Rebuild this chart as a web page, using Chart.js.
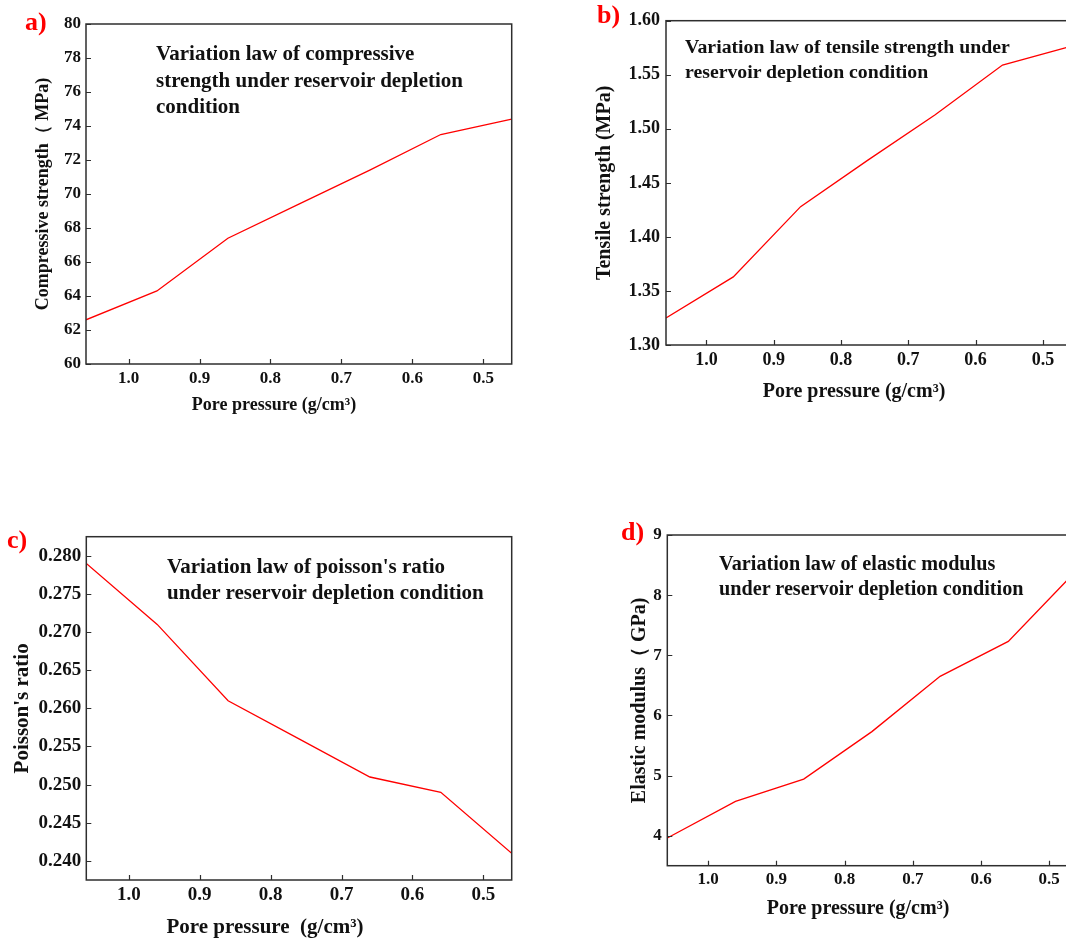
<!DOCTYPE html>
<html>
<head>
<meta charset="utf-8">
<script src="https://cdn.jsdelivr.net/npm/chart.js@4.4.1/dist/chart.umd.min.js"></script>
<style>
    body { margin: 0; background: #fff; }
    #page { position: relative; width: 1066px; height: 943px; overflow: hidden; background: #fff; }
    canvas { position: absolute; }
    .note, .tag {
        position: absolute;
        font-family: "Liberation Serif", "Times New Roman", serif;
        font-weight: bold;
        white-space: nowrap;
    }
    .note { color: #111; }
    .tag { color: #ff0000; line-height: 1; }
</style>
</head>
<body>
<div id="page">
    <canvas id="chartA" width="540" height="430" style="left:0px;top:0px"></canvas>
    <canvas id="chartB" width="540" height="430" style="left:560px;top:0px"></canvas>
    <canvas id="chartC" width="540" height="443" style="left:0px;top:500px"></canvas>
    <canvas id="chartD" width="540" height="443" style="left:560px;top:500px"></canvas>

    <div class="tag" style="left:25px;top:9px;font-size:26px">a)</div>
    <div class="tag" style="left:597px;top:2px;font-size:26px">b)</div>
    <div class="tag" style="left:7px;top:527px;font-size:26px">c)</div>
    <div class="tag" style="left:621px;top:519px;font-size:26px">d)</div>

    <div class="note" style="left:156px;top:40px;font-size:21px;line-height:26.7px">Variation law of compressive<br>strength under reservoir depletion<br>condition</div>
    <div class="note" style="left:685px;top:34px;font-size:19.8px;line-height:25px">Variation law of tensile strength under<br>reservoir depletion condition</div>
    <div class="note" style="left:167px;top:553px;font-size:21px;line-height:26px">Variation law of poisson's ratio<br>under reservoir depletion condition</div>
    <div class="note" style="left:719px;top:551px;font-size:20.2px;line-height:25px">Variation law of elastic modulus<br>under reservoir depletion condition</div>
</div>

<script>
// Data
const porePressure = [1.06, 0.96, 0.86, 0.76, 0.66, 0.56, 0.46];
const compressiveStrength = [62.6, 64.3, 67.4, 69.4, 71.4, 73.5, 74.4];
const tensileStrength = [1.325, 1.363, 1.428, 1.471, 1.513, 1.559, 1.576];
const poissonRatio = [0.279, 0.271, 0.261, 0.256, 0.251, 0.249, 0.241];
const elasticModulus = [3.96, 4.57, 4.94, 5.73, 6.65, 7.23, 8.41];

// Tick labels
const xTicks = [1.0, 0.9, 0.8, 0.7, 0.6, 0.5];
const compressiveTicks = [60, 62, 64, 66, 68, 70, 72, 74, 76, 78, 80];
const tensileTicks = [1.30, 1.35, 1.40, 1.45, 1.50, 1.55, 1.60];
const poissonTicks = [0.240, 0.245, 0.250, 0.255, 0.260, 0.265, 0.270, 0.275, 0.280];
const modulusTicks = [4, 5, 6, 7, 8, 9];

Chart.defaults.font.family = '"Liberation Serif", "Times New Roman", serif';
Chart.defaults.color = '#111';

// Box frame, inward tick marks and the x axis title
const framePlugin = {
    id: 'frame',
    afterDraw(chart, args, opts) {
        const { ctx, chartArea: area, scales } = chart;
        ctx.save();
        ctx.strokeStyle = '#2e2e2e';
        ctx.lineWidth = 1.5;
        ctx.strokeRect(area.left, area.top, area.right - area.left, area.bottom - area.top);

        ctx.lineWidth = 1.2;
        ctx.beginPath();
        scales.x.ticks.forEach(t => {
            const px = Math.round(scales.x.getPixelForValue(t.value)) + 0.5;
            ctx.moveTo(px, area.bottom);
            ctx.lineTo(px, area.bottom - 5);
        });
        scales.y.ticks.forEach(t => {
            const py = Math.round(scales.y.getPixelForValue(t.value)) + 0.5;
            ctx.moveTo(area.left, py);
            ctx.lineTo(area.left + 5, py);
        });
        ctx.stroke();

        ctx.fillStyle = '#111';
        ctx.font = `bold ${opts.size}px "Liberation Serif", "Times New Roman", serif`;
        ctx.textAlign = 'center';
        ctx.textBaseline = 'middle';
        ctx.fillText(opts.text, opts.x, opts.y);
        ctx.restore();
    }
};

function makePanel(id, cfg) {
    const ctx = document.getElementById(id).getContext('2d');
    return new Chart(ctx, {
        type: 'line',
        data: {
            labels: porePressure,
            datasets: [{
                data: porePressure.map((p, i) => ({ x: p, y: cfg.values[i] })),
                borderColor: '#ff0000',
                borderWidth: 1.3,
                pointRadius: 0,
                tension: 0,
                fill: false
            }]
        },
        options: {
            responsive: false,
            animation: false,
            devicePixelRatio: 1,
            layout: { padding: cfg.padding },
            plugins: {
                legend: { display: false },
                tooltip: { enabled: false },
                frame: cfg.xTitle
            },
            scales: {
                x: {
                    type: 'linear',
                    reverse: true,
                    min: 0.46,
                    max: 1.06,
                    grid: { display: false, drawTicks: false },
                    border: { display: false },
                    afterBuildTicks: scale => { scale.ticks = xTicks.map(v => ({ value: v })); },
                    afterFit: scale => { scale.height = cfg.xHeight; },
                    ticks: {
                        padding: cfg.xPad,
                        font: { size: cfg.tickSize, weight: 'bold' },
                        color: '#111',
                        callback: v => Number(v).toFixed(1)
                    }
                },
                y: {
                    min: cfg.yMin,
                    max: cfg.yMax,
                    grid: { display: false, drawTicks: false },
                    border: { display: false },
                    afterBuildTicks: scale => { scale.ticks = cfg.yTicks.map(v => ({ value: v })); },
                    afterFit: scale => { scale.width = cfg.yWidth; },
                    ticks: {
                        padding: cfg.yPad,
                        font: { size: cfg.tickSize, weight: 'bold' },
                        color: '#111',
                        callback: v => Number(v).toFixed(cfg.decimals)
                    },
                    title: {
                        display: true,
                        text: cfg.yTitle,
                        color: '#111',
                        font: { size: cfg.yTitleSize, weight: 'bold' },
                        padding: { top: cfg.yTitlePad, bottom: 0 }
                    }
                }
            }
        },
        plugins: [framePlugin]
    });
}

makePanel('chartA', {
    values: compressiveStrength, yTicks: compressiveTicks, yMin: 60, yMax: 80, decimals: 0,
    padding: { top: 24, right: 28.3, left: 0, bottom: 0 },
    yWidth: 86, xHeight: 66, xPad: 4, yPad: 5, tickSize: 17,
    yTitle: 'Compressive strength（ MPa)', yTitleSize: 18, yTitlePad: 32.2,
    xTitle: { text: 'Pore pressure (g/cm³)', size: 18, x: 274, y: 405 }
});

makePanel('chartB', {
    values: tensileStrength, yTicks: tensileTicks, yMin: 1.30, yMax: 1.60, decimals: 2,
    padding: { top: 20.7, right: 30.2, left: 0, bottom: 0 },
    yWidth: 106, xHeight: 85, xPad: 4.2, yPad: 6, tickSize: 18,
    yTitle: 'Tensile strength (MPa)', yTitleSize: 20, yTitlePad: 33,
    xTitle: { text: 'Pore pressure (g/cm³)', size: 20, x: 294, y: 392 }
});

makePanel('chartC', {
    values: poissonRatio, yTicks: poissonTicks, yMin: 0.2375, yMax: 0.2825, decimals: 3,
    padding: { top: 36.7, right: 28.3, left: 0, bottom: 0 },
    yWidth: 86.3, xHeight: 63, xPad: 3.6, yPad: 5, tickSize: 19,
    yTitle: "Poisson's ratio", yTitleSize: 21, yTitlePad: 10.4,
    xTitle: { text: 'Pore pressure  (g/cm³)', size: 21, x: 265, y: 428 }
});

makePanel('chartD', {
    values: elasticModulus, yTicks: modulusTicks, yMin: 3.5, yMax: 9, decimals: 0,
    padding: { top: 35, right: 23.5, left: 0, bottom: 0 },
    yWidth: 107.3, xHeight: 77.3, xPad: 3.4, yPad: 5.6, tickSize: 17,
    yTitle: 'Elastic modulus（ GPa)', yTitleSize: 20, yTitlePad: 68,
    xTitle: { text: 'Pore pressure (g/cm³)', size: 20, x: 298, y: 409 }
});
</script>
</body>
</html>
